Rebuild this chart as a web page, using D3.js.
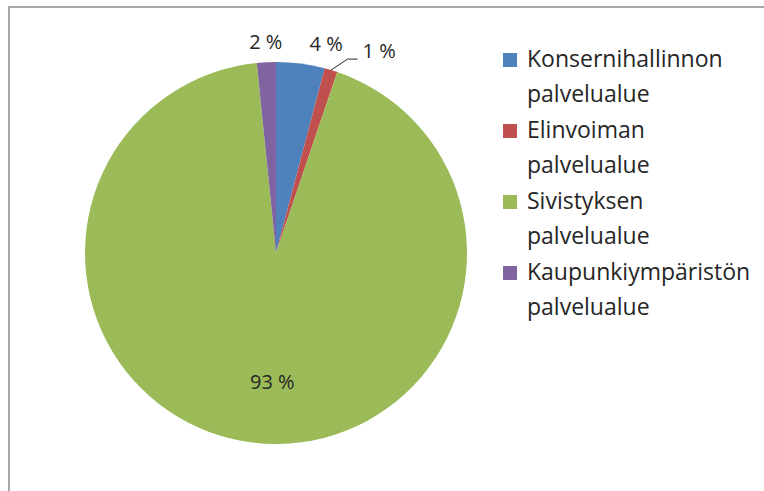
<!DOCTYPE html>
<html><head><meta charset="utf-8">
<script src="https://cdn.jsdelivr.net/npm/d3@7"></script>
<style>
html,body{margin:0;padding:0;background:#fff;}
svg text{font-family:"Open Sans",sans-serif;fill:#262626;}
</style></head>
<body>
<svg id="chart" width="764" height="491"></svg>
<script>
const categories = ["Konsernihallinnon palvelualue","Elinvoiman palvelualue","Sivistyksen palvelualue","Kaupunkiympäristön palvelualue"];
const legendLines = [["Konsernihallinnon","palvelualue"],["Elinvoiman","palvelualue"],["Sivistyksen","palvelualue"],["Kaupunkiympäristön","palvelualue"]];
const values = [4.1, 1.1, 93.2, 1.6];
const labels = ["4 %","1 %","93 %","2 %"];
const colors = ["#4f81bd","#c0504d","#9bbb59","#8064a2"];

const svg = d3.select("#chart");
svg.append("rect").attr("x",9).attr("y",7).attr("width",800).attr("height",600)
  .attr("fill","none").attr("stroke","#a6a6a6").attr("stroke-width",2);

const cx = 276, cy = 253, r = 191;
const g = svg.append("g").attr("transform",`translate(${cx},${cy})`);
const pie = d3.pie().sort(null).value(d=>d)(values);
const arc = d3.arc().innerRadius(0).outerRadius(r);
g.selectAll("path").data(pie).join("path").attr("d",arc).attr("fill",(d,i)=>colors[i]);

// labels
const fs = 20;
pie.forEach((d,i)=>{
  const a = (d.startAngle+d.endAngle)/2;
  let x,y,anchor="middle";
  if(i===2){
    const R = r*0.68;
    x = Math.sin(a)*R + 11; y = -Math.cos(a)*R + 7;
  } else if(i===1){
    const p0=[Math.sin(a)*r, -Math.cos(a)*r];
    const p1=[p0[0]+16.5, p0[1]-11];
    const p2=[p1[0]+10, p1[1]];
    g.append("polyline").attr("points",[p0,p1,p2].map(p=>p.join(",")).join(" "))
      .attr("fill","none").attr("stroke","#262626").attr("stroke-width",1);
    x=p2[0]+5; y=p2[1]-1; anchor="start";
  } else {
    const R = r+13;
    x = Math.sin(a)*R; y = -Math.cos(a)*R;
    if(i===0){x+=24;}
  }
  g.append("text").attr("x",x).attr("y",y).attr("text-anchor",anchor)
   .attr("font-size",fs).text(labels[i]);
});

// legend
const lg = svg.append("g");
legendLines.forEach((lines,i)=>{
  const b = 67 + i*71;
  lg.append("rect").attr("x",503).attr("y",b-14).attr("width",14).attr("height",14).attr("fill",colors[i]);
  lines.forEach((t,j)=>{
    lg.append("text").attr("x",527).attr("y",b+j*35).attr("font-size",23).text(t);
  });
});
</script>
</body></html>
